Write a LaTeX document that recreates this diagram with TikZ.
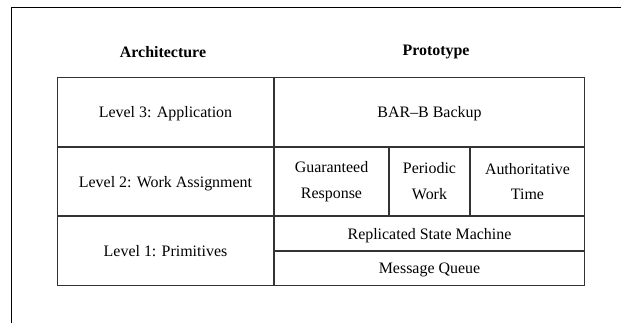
\documentclass[tikz,border=0pt]{standalone}
\usepackage{fontspec}
\setmainfont{Liberation Serif}
\usepackage{tikz}
\usetikzlibrary{positioning}

\begin{document}
\begin{tikzpicture}[x=1bp,y=-1bp,
    cell/.style={draw=black!80,line width=1.1pt,inner sep=0pt,align=center,
      font=\fontsize{16}{26}\selectfont},
    oneline/.style={cell,text depth=0pt},
    head/.style={font=\bfseries\fontsize{16}{26}\selectfont}]
    \useasboundingbox (0,0) rectangle (621,323);

    % Page frame
    \coordinate (fa) at (11,323);
    \coordinate (fb) at (11,7);
    \coordinate (fc) at (621,7);
    \draw[black,line width=0.9pt] (fa) -- (fb) -- (fc);

    % Headings
    \node[head] (arch) at (163,52) {Architecture};
    \node[head] (proto) at (436,52) {Prototype};

    % Architecture levels
    \node[oneline,minimum width=217,minimum height=70] (lvl3) at (165.5,112) {Level 3: Application};
    \node[oneline,minimum width=217,minimum height=69] (lvl2) at (165.5,181.5) {Level 2: Work Assignment};
    \node[oneline,minimum width=217,minimum height=70] (lvl1) at (165.5,251) {Level 1: Primitives};

    % Prototype parts
    \node[oneline,minimum width=311,minimum height=70] (bar) at (429.5,112) {BAR--B Backup};
    \node[cell,minimum width=115,minimum height=69] (resp) at (331.5,181.5) {Guaranteed\\Response};
    \node[cell,minimum width=81,minimum height=69] (work) at (429.5,181.5) {Periodic\\Work};
    \node[cell,minimum width=115,minimum height=69] (time) at (527.5,181.5) {Authoritative\\Time};
    \node[oneline,minimum width=311,minimum height=35] (rsm) at (429.5,233.5) {Replicated State Machine};
    \node[oneline,minimum width=311,minimum height=35] (queue) at (429.5,268.5) {Message Queue};
\end{tikzpicture}
\end{document}
